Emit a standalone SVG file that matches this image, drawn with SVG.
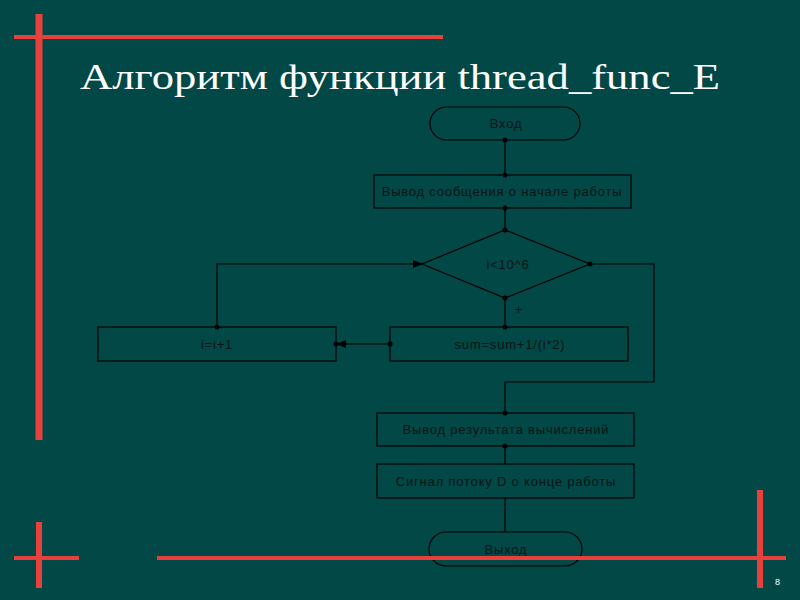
<svg xmlns="http://www.w3.org/2000/svg" width="800" height="600" viewBox="0 0 800 600">
<defs>
<style>
.red{stroke:#e8403a;fill:none}
.ln{stroke:#000;stroke-width:1.2;fill:none}
.box{stroke:#000;stroke-width:1.2;fill:none}
.t{font-family:"Liberation Sans",Arial,sans-serif;font-size:13px;letter-spacing:0.8px;fill:#0a1414;text-anchor:middle;dominant-baseline:central}
.dot{fill:#000}
</style>
<marker id="arr" markerWidth="10" markerHeight="8" refX="9" refY="4" orient="auto" markerUnits="userSpaceOnUse">
<path d="M0,0 L10,4 L0,8 Z" fill="#000"/>
</marker>
</defs>
<rect width="800" height="600" fill="#014846"/>
<g id="decor">
<line class="red" x1="39" y1="14" x2="39" y2="440" stroke-width="7"/>
<line class="red" x1="14" y1="37" x2="443" y2="37" stroke-width="4"/>
<line class="red" x1="39" y1="522" x2="39" y2="588" stroke-width="6"/>
<line class="red" x1="14" y1="558" x2="79" y2="558" stroke-width="4"/>
</g>
<text x="80" y="89" font-family="Liberation Serif,serif" font-size="36" fill="#fff" textLength="640" lengthAdjust="spacingAndGlyphs">Алгоритм функции thread_func_E</text>
<g id="connectors">
<line class="ln" x1="505" y1="140" x2="505" y2="175"/>
<line class="ln" x1="505" y1="208" x2="505" y2="230"/>
<line class="ln" x1="505" y1="298" x2="505" y2="327"/>
<polyline class="ln" points="590,264 654,264 654,382 505,382 505,413"/>
<line class="ln" x1="390" y1="344" x2="337" y2="344" marker-end="url(#arr)"/>
<polyline class="ln" points="217,327 217,264 422,264" marker-end="url(#arr)"/>
<line class="ln" x1="505" y1="446" x2="505" y2="464"/>
<line class="ln" x1="505" y1="498" x2="505" y2="532"/>
<circle class="dot" cx="505" cy="140" r="2.5"/>
<circle class="dot" cx="505" cy="175" r="2.5"/>
<circle class="dot" cx="505" cy="208" r="2.5"/>
<circle class="dot" cx="505" cy="230" r="2.5"/>
<circle class="dot" cx="505" cy="298" r="2.5"/>
<circle class="dot" cx="505" cy="327" r="2.5"/>
<circle class="dot" cx="590" cy="264" r="2.5"/>
<circle class="dot" cx="390" cy="344" r="2.5"/>
<circle class="dot" cx="336" cy="344" r="2.5"/>
<circle class="dot" cx="217" cy="327" r="2.5"/>
<circle class="dot" cx="505" cy="413" r="2.5"/>
<circle class="dot" cx="505" cy="446" r="2.5"/>
<text class="t" x="519" y="309">+</text>
</g>
<g id="start">
<rect class="box" x="430" y="107" width="150" height="33" rx="16.5"/>
<text class="t" x="506" y="123.5">Вход</text>
</g>
<g id="msg_start">
<rect class="box" x="374" y="175" width="257" height="33"/>
<text class="t" x="502" y="191.5">Вывод сообщения о начале работы</text>
</g>
<g id="cond">
<polygon class="box" points="505,230 590,264 505,298 422,264"/>
<text class="t" x="508" y="264">i&lt;10^6</text>
</g>
<g id="sum">
<rect class="box" x="390" y="327" width="238" height="34"/>
<text class="t" x="510" y="344">sum=sum+1/(i*2)</text>
</g>
<g id="inc">
<rect class="box" x="98" y="327" width="238" height="34"/>
<text class="t" x="217" y="344">i=i+1</text>
</g>
<g id="result">
<rect class="box" x="377" y="413" width="257" height="33"/>
<text class="t" x="506" y="429.5">Вывод результата вычислений</text>
</g>
<g id="signal">
<rect class="box" x="377" y="464" width="257" height="34"/>
<text class="t" x="506" y="481">Сигнал потоку D о конце работы</text>
</g>
<g id="end">
<rect class="box" x="429" y="532" width="153" height="34" rx="17"/>
<text class="t" x="506" y="549">Выход</text>
</g>
<g id="decor2">
<line class="red" x1="157" y1="558" x2="786" y2="558" stroke-width="4"/>
<line class="red" x1="760" y1="490" x2="760" y2="588" stroke-width="6"/>
</g>
<text x="775" y="585" font-family="Liberation Sans,sans-serif" font-size="9" fill="#fff">8</text>
</svg>
